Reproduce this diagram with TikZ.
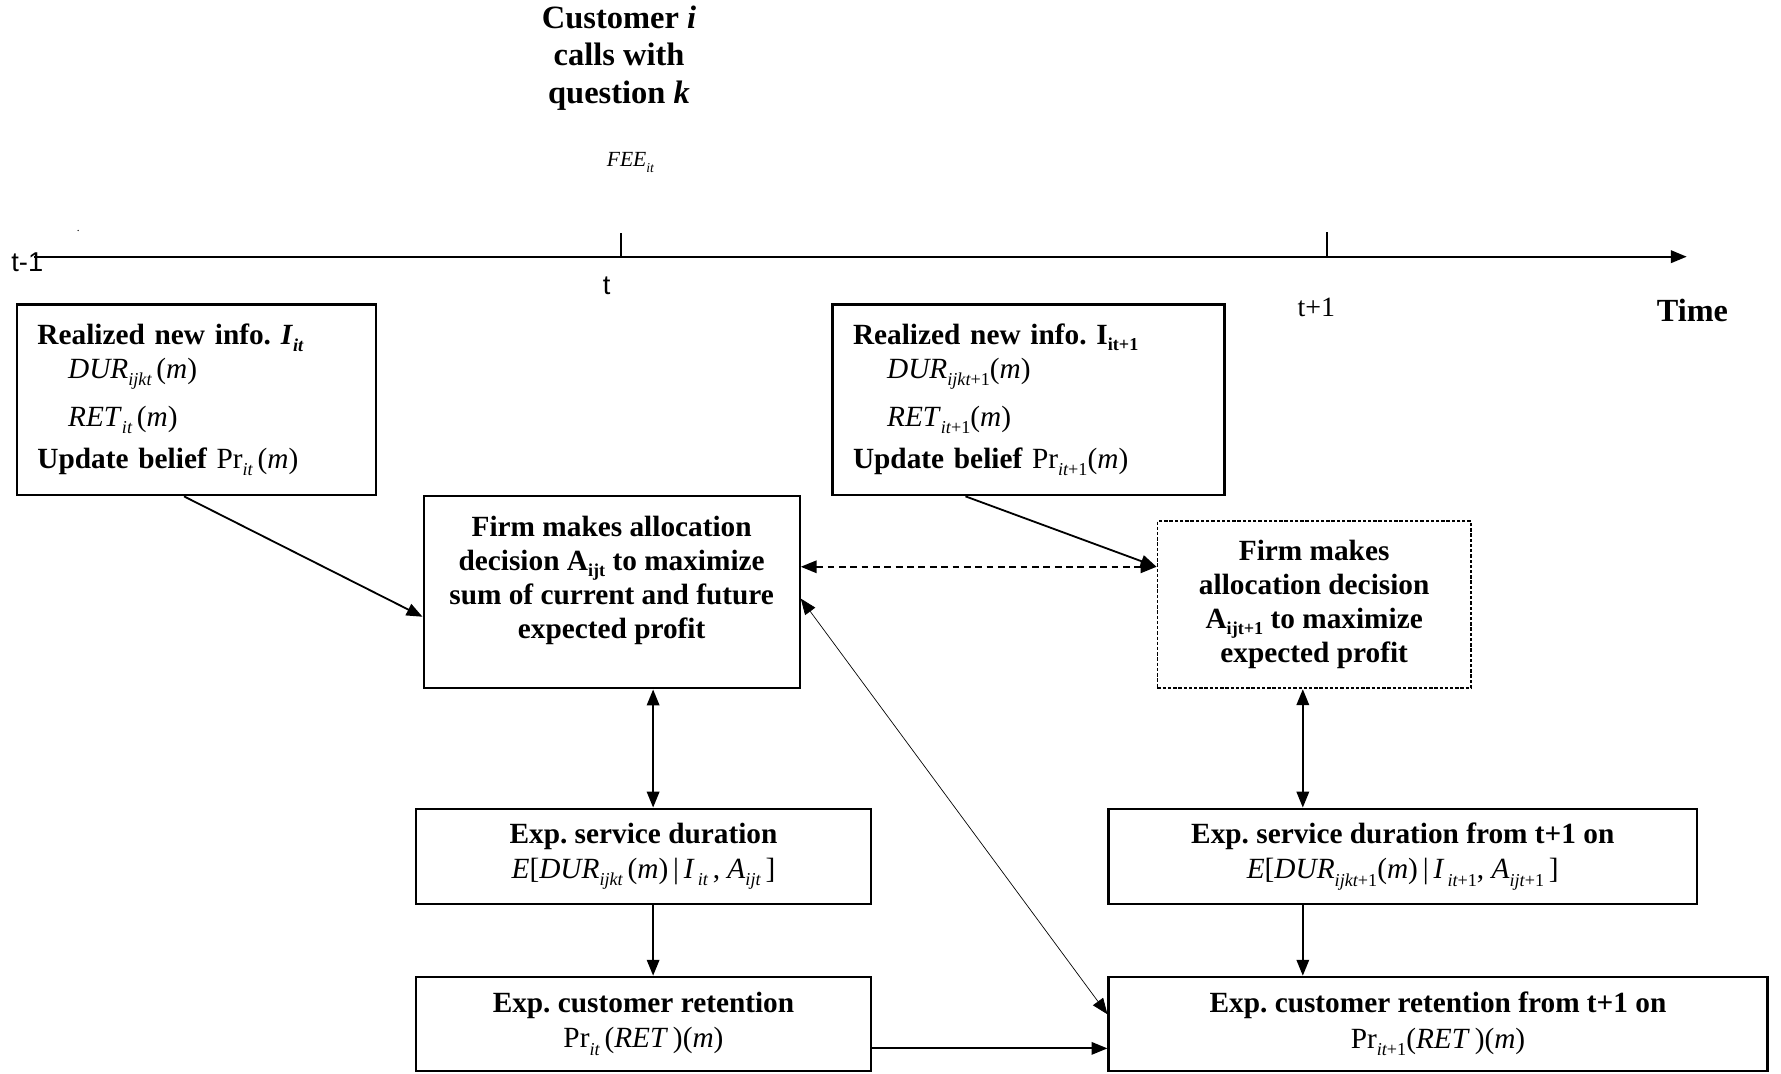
\documentclass[tikz,border=0pt]{standalone}
\usepackage{fontspec}
\setmainfont{Liberation Serif}
\newfontfamily\axisfont{Liberation Sans}
\usetikzlibrary{arrows.meta, calc}

\newcommand{\lowit}[1]{\raisebox{-0.55ex}{\fontsize{8}{9}\selectfont\itshape #1}}
\newcommand{\lowup}[1]{\raisebox{-0.45ex}{\fontsize{8}{9}\selectfont #1}}
\frenchspacing

\begin{document}
\begin{tikzpicture}[x=0.5pt, y=-0.5pt,
    box/.style={draw, line width=1pt, inner sep=0pt},
    boxfont/.style={font=\bfseries\fontsize{12.9}{15}\selectfont},
    tip/.style={-{Triangle[length=7pt,width=5.5pt]}},
    twotip/.style={{Triangle[length=7pt,width=5.5pt]}-{Triangle[length=7pt,width=5.5pt]}},
    link/.style={line width=0.8pt}]

    \useasboundingbox (0,0) rectangle (1568,945);

    % time line
    \draw[line width=1pt, tip] (30,226) coordinate (tstart) -- (1485,226) coordinate (tend);
    \draw[line width=0.8pt] (547,226) coordinate (tick1) -- (547,205);
    \draw[line width=0.8pt] (1168,226) coordinate (tick2) -- (1168,204);

    \node[font=\bfseries\fontsize{14.3}{16.5}\selectfont, align=center] (caller) at (545,51) {Customer \textit{i}\\calls with\\question \textit{k}};
    \node[font=\itshape\fontsize{9.5}{10}\selectfont] (fee) at (555,143) {FEE\lowit{\fontsize{6}{7}\selectfont it}};
    \node[font=\fontsize{5}{6}\selectfont, inner sep=0pt] (dot) at (69,203) {.};
    \node[font=\axisfont\fontsize{12}{14}\selectfont] (tprev) at (24,231) {t-1};
    \node[font=\axisfont\fontsize{12}{14}\selectfont] (tnow) at (534,252) {t};
    \node[font=\fontsize{12.3}{14}\selectfont] (tnext) at (1159,271) {t+1};
    \node[font=\bfseries\fontsize{14.2}{15}\selectfont] (timelab) at (1490,273) {Time};

    % info boxes
    \node[box, boxfont, inner xsep=9pt, text width=140pt, minimum height=84pt, align=left] (info1) at (173,352)
        {Realized new info. \textit{I}\lowit{\bfseries it}\\
         \hspace*{13.5pt}{\mdseries\textit{DUR}\lowit{ijkt}\,(\textit{m})}\\[6pt]
         \hspace*{13.5pt}{\mdseries\textit{RET}\lowit{it}\,(\textit{m})}\\[3.5pt]
         Update belief {\mdseries Pr\lowit{it}\,(\textit{m})}};
    \node[box, boxfont, inner xsep=9pt, text width=154.5pt, minimum height=84pt, align=left] (info2) at (905.5,352)
        {Realized new info. I\lowup{\bfseries it+1}\\
         \hspace*{15pt}{\mdseries\textit{DUR}\lowit{ijkt\upshape+1}(\textit{m})}\\[6pt]
         \hspace*{15pt}{\mdseries\textit{RET}\lowit{it\upshape+1}(\textit{m})}\\[3.5pt]
         Update belief {\mdseries Pr\lowit{it\upshape+1}(\textit{m})}};

    % decision boxes
    \node[box, boxfont, minimum width=165.5pt, minimum height=84.5pt, align=center] (firm1) at (538.5,521.5)
        {Firm makes allocation\\decision A\lowup{\bfseries ijt} to maximize\\sum of current and future\\expected profit\\[-1.5pt]\mbox{}};
    \node[box, boxfont, line width=0.8pt, dash pattern=on 1.5pt off 0.8pt, minimum width=138pt, minimum height=73.5pt, align=center] (firm2) at (1157,532.5)
        {Firm makes\\allocation decision\\A\lowup{\bfseries ijt+1} to maximize\\expected profit};

    % expectation boxes
    \node[box, boxfont, minimum width=200.5pt, minimum height=42pt, align=center] (dur1) at (566.5,754)
        {Exp. service duration\\[0.5pt]
         {\mdseries\textit{E}[\textit{DUR}\lowit{ijkt}\,(\textit{m})\,|\,\textit{I}\lowit{\,it}\,, \textit{A}\lowit{ijt}\,]}};
    \node[box, boxfont, minimum width=259pt, minimum height=42pt, align=center] (dur2) at (1235,754)
        {Exp. service duration from t+1 on\\[0.5pt]
         {\mdseries\textit{E}[\textit{DUR}\lowit{ijkt\upshape+1}(\textit{m})\,|\,\textit{I}\lowit{\,it\upshape+1}, \textit{A}\lowit{ijt\upshape+1}\,]}};
    \node[box, boxfont, minimum width=200.5pt, minimum height=41.5pt, align=center] (ret1) at (566.5,901.5)
        {Exp. customer retention\\[0.5pt]
         {\mdseries Pr\lowit{it}\,(\textit{RET}\,)(\textit{m})}};
    \node[box, boxfont, minimum width=290pt, minimum height=41.5pt, align=center] (ret2) at (1266,901.5)
        {Exp. customer retention from t+1 on\\[0.5pt]
         {\mdseries Pr\lowit{it\upshape+1}(\textit{RET}\,)(\textit{m})}};

    % connectors
    \draw[link, tip] ([xshift=-5.5pt]info1.south) -- ([yshift=-10.75pt]firm1.west);
    \draw[link, tip] ([xshift=-27.75pt]info2.south) -- ([yshift=16.75pt]firm2.west);
    \draw[link, twotip, dash pattern=on 3pt off 2pt] ([yshift=11.25pt]firm1.east) -- ([yshift=16.75pt]firm2.west);
    \draw[line width=0.3pt, twotip] ([yshift=-2.75pt]firm1.east) -- ([yshift=4.25pt]ret2.west);
    \draw[link, twotip] ([xshift=4.25pt]dur1.north) -- ([xshift=4.25pt]dur1.north |- firm1.south);
    \draw[link, twotip] ([xshift=-44pt]dur2.north) -- ([xshift=-44pt]dur2.north |- firm2.south);
    \draw[link, tip] ([xshift=4.25pt]dur1.south) -- ([xshift=4.25pt]dur1.south |- ret1.north);
    \draw[link, tip] ([xshift=-44pt]dur2.south) -- ([xshift=-44pt]dur2.south |- ret2.north);
    \draw[link, tip] ([yshift=-10.75pt]ret1.east) -- ([yshift=-10.75pt]ret1.east -| ret2.west);

\end{tikzpicture}
\end{document}
